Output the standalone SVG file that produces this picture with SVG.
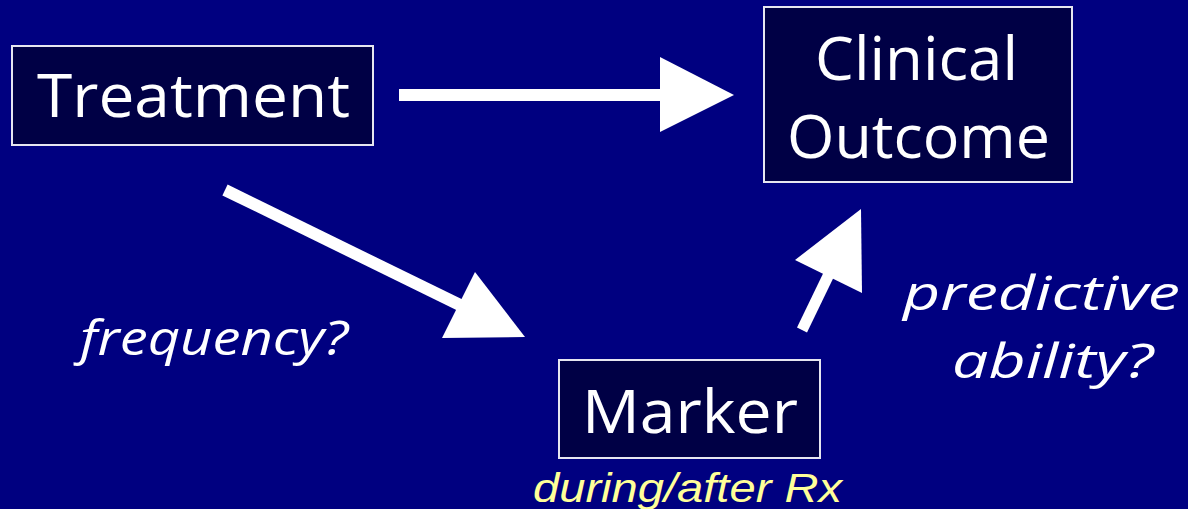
<svg xmlns="http://www.w3.org/2000/svg" width="1188" height="509" viewBox="0 0 1188 509">
  <style>
    .box { fill: #000045; stroke: #e6e6f0; stroke-width: 2; }
    .label { fill: #ffffff; font-family: "Comic Sans MS", "Open Sans", sans-serif; font-size: 60px; }
    .note { fill: #ffffff; font-family: "Comic Sans MS", "Open Sans", sans-serif; font-style: italic; font-size: 48px; }
    .timing { fill: #ffff99; font-family: "Liberation Sans", Arial, sans-serif; font-style: italic; font-size: 40px; }
    .arrow { fill: #ffffff; }
  </style>
  <rect width="1188" height="509" fill="#000080"/>

  <g id="connectors">
    <!-- Treatment to Clinical Outcome -->
    <g id="edge-treatment-outcome" class="arrow">
      <rect x="399" y="89" width="262" height="12"/>
      <polygon points="660,57 734,95 660,132"/>
    </g>
    <!-- Treatment to Marker -->
    <g id="edge-treatment-marker" class="arrow">
      <polygon points="227.6,184.6 222.4,195.4 459.4,311.4 464.6,300.6"/>
      <polygon points="475,272 525,337 442,338"/>
    </g>
    <!-- Marker to Clinical Outcome -->
    <g id="edge-marker-outcome" class="arrow">
      <polygon points="797,327.6 807,332.4 835,274.4 825,269.6"/>
      <polygon points="861,209 862,293 795,260"/>
    </g>
  </g>

  <g id="node-treatment">
    <rect class="box" x="12" y="46" width="361" height="99"/>
    <text class="label" x="37" y="117" textLength="313" lengthAdjust="spacingAndGlyphs">Treatment</text>
  </g>

  <g id="node-outcome">
    <rect class="box" x="764" y="7" width="308" height="175"/>
    <text class="label" x="815" y="80" textLength="203" lengthAdjust="spacingAndGlyphs">Clinical</text>
    <text class="label" x="787" y="158" textLength="263" lengthAdjust="spacingAndGlyphs">Outcome</text>
  </g>

  <g id="node-marker">
    <rect class="box" x="559" y="360" width="261" height="98"/>
    <text class="label" x="582" y="433" textLength="216" lengthAdjust="spacingAndGlyphs">Marker</text>
    <text class="timing" x="533" y="502" textLength="309" lengthAdjust="spacingAndGlyphs">during/after Rx</text>
  </g>

  <g id="label-frequency">
    <text class="note" x="80" y="355" textLength="268" lengthAdjust="spacingAndGlyphs">frequency?</text>
  </g>

  <g id="label-predictive">
    <text class="note" x="903" y="310" textLength="277" lengthAdjust="spacingAndGlyphs">predictive</text>
    <text class="note" x="952" y="378" textLength="201" lengthAdjust="spacingAndGlyphs">ability?</text>
  </g>
</svg>
